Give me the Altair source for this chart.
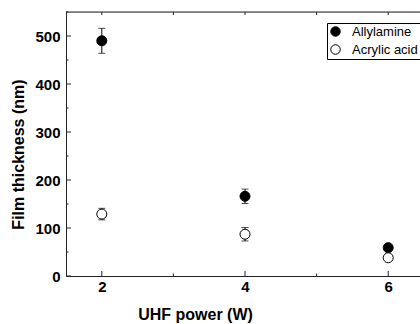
import altair as alt
import pandas as pd

# ---- data ----
power = [2, 4, 6]
series_names = ["Allylamine", "Acrylic acid"]
allylamine = [490, 166, 59]
allylamine_err = [26, 15, 5]
acrylic = [129, 87, 38]
acrylic_err = [12, 14, 6]

y_major = [0, 100, 200, 300, 400, 500]
y_minor = [50, 150, 250, 350, 450, 550]
x_major = [2, 4, 6]
x_minor = [3, 5]

rows = []
for p, v, e in zip(power, allylamine, allylamine_err):
    rows.append({"power": p, "series": series_names[0], "value": v, "lo": v - e, "hi": v + e})
for p, v, e in zip(power, acrylic, acrylic_err):
    rows.append({"power": p, "series": series_names[1], "value": v, "lo": v - e, "hi": v + e})
df = pd.DataFrame(rows)

W, H = 354, 264
FONT = "Liberation Sans"

xscale = alt.Scale(domain=[1.5, 6.444], nice=False, zero=False)
yscale = alt.Scale(domain=[0, 550], nice=False)

xaxis = alt.Axis(values=x_major, format="d", ticks=False, domain=True, domainColor="#222",
                 labelFont=FONT, labelFontSize=15, labelFontWeight="bold", labelColor="black",
                 labelPadding=3, title="UHF power (W)", titleFont=FONT, titleFontSize=16,
                 titleFontWeight="bold", titleColor="black", titlePadding=12, titleX=129,
                 grid=False)
yaxis = alt.Axis(values=y_major, format="d", ticks=False, domain=True, domainColor="#222",
                 labelFont=FONT, labelFontSize=15, labelFontWeight="bold", labelColor="black",
                 labelPadding=6, title="Film thickness (nm)", titleFont=FONT, titleFontSize=16,
                 titleFontWeight="bold", titleColor="black", titlePadding=8, titleY=142,
                 grid=False)

base = alt.Chart(df)

err = base.mark_rule(color="black", strokeWidth=1).encode(
    x=alt.X("power:Q", scale=xscale, axis=xaxis),
    y=alt.Y("lo:Q", scale=yscale, axis=yaxis),
    y2="hi:Q",
)
cap_lo = base.mark_tick(color="black", orient="horizontal", size=7, thickness=1).encode(
    x=alt.X("power:Q", scale=xscale), y=alt.Y("lo:Q", scale=yscale)
)
cap_hi = base.mark_tick(color="black", orient="horizontal", size=7, thickness=1).encode(
    x=alt.X("power:Q", scale=xscale), y=alt.Y("hi:Q", scale=yscale)
)
points = base.mark_point(shape="circle", size=100, stroke="black", strokeWidth=1, opacity=1,
                         filled=False).encode(
    x=alt.X("power:Q", scale=xscale),
    y=alt.Y("value:Q", scale=yscale),
    fill=alt.Fill("series:N",
                  scale=alt.Scale(domain=series_names, range=["black", "white"]),
                  legend=alt.Legend(title=None, orient="none", legendX=261, legendY=11,
                                    strokeColor="black", padding=2, rowPadding=3,
                                    symbolType="circle", symbolSize=90,
                                    symbolStrokeColor="black", symbolStrokeWidth=1,
                                    symbolOffset=0, labelOffset=10,
                                    labelFont="Arial", labelFontSize=13, labelColor="black")),
)

ymaj_df = pd.DataFrame({"v": y_major})
ymin_df = pd.DataFrame({"v": y_minor})
xmaj_df = pd.DataFrame({"v": x_major})
xmin_df = pd.DataFrame({"v": x_minor})
xall_df = pd.DataFrame({"v": sorted(x_major + x_minor)})

ytick_major = alt.Chart(ymaj_df).mark_rule(color="#222").encode(
    y=alt.Y("v:Q", scale=yscale), x=alt.value(0), x2=alt.value(5))
ytick_minor = alt.Chart(ymin_df).mark_rule(color="#222").encode(
    y=alt.Y("v:Q", scale=yscale), x=alt.value(0), x2=alt.value(2.5))
xtick_major = alt.Chart(xmaj_df).mark_rule(color="#222").encode(
    x=alt.X("v:Q", scale=xscale), y=alt.value(H), y2=alt.value(H - 5))
xtick_minor = alt.Chart(xmin_df).mark_rule(color="#222").encode(
    x=alt.X("v:Q", scale=xscale), y=alt.value(H), y2=alt.value(H - 2.5))
xtick_top = alt.Chart(xall_df).mark_rule(color="#222").encode(
    x=alt.X("v:Q", scale=xscale), y=alt.value(0), y2=alt.value(3))
top_frame = alt.Chart(pd.DataFrame({"v": [0]})).mark_rule(color="#222").encode(
    y=alt.value(0), x=alt.value(0), x2=alt.value(W))

chart = alt.layer(
    err, cap_lo, cap_hi, ytick_major, ytick_minor, xtick_major, xtick_minor, xtick_top,
    top_frame, points
).properties(
    width=W, height=H,
    autosize=alt.AutoSizeParams(type="none"),
    padding={"left": 66, "top": 12, "right": 0, "bottom": 48},
).configure_view(stroke=None).configure(background="white")

chart.save("out.html", embed_options={"renderer": "svg", "actions": False})
